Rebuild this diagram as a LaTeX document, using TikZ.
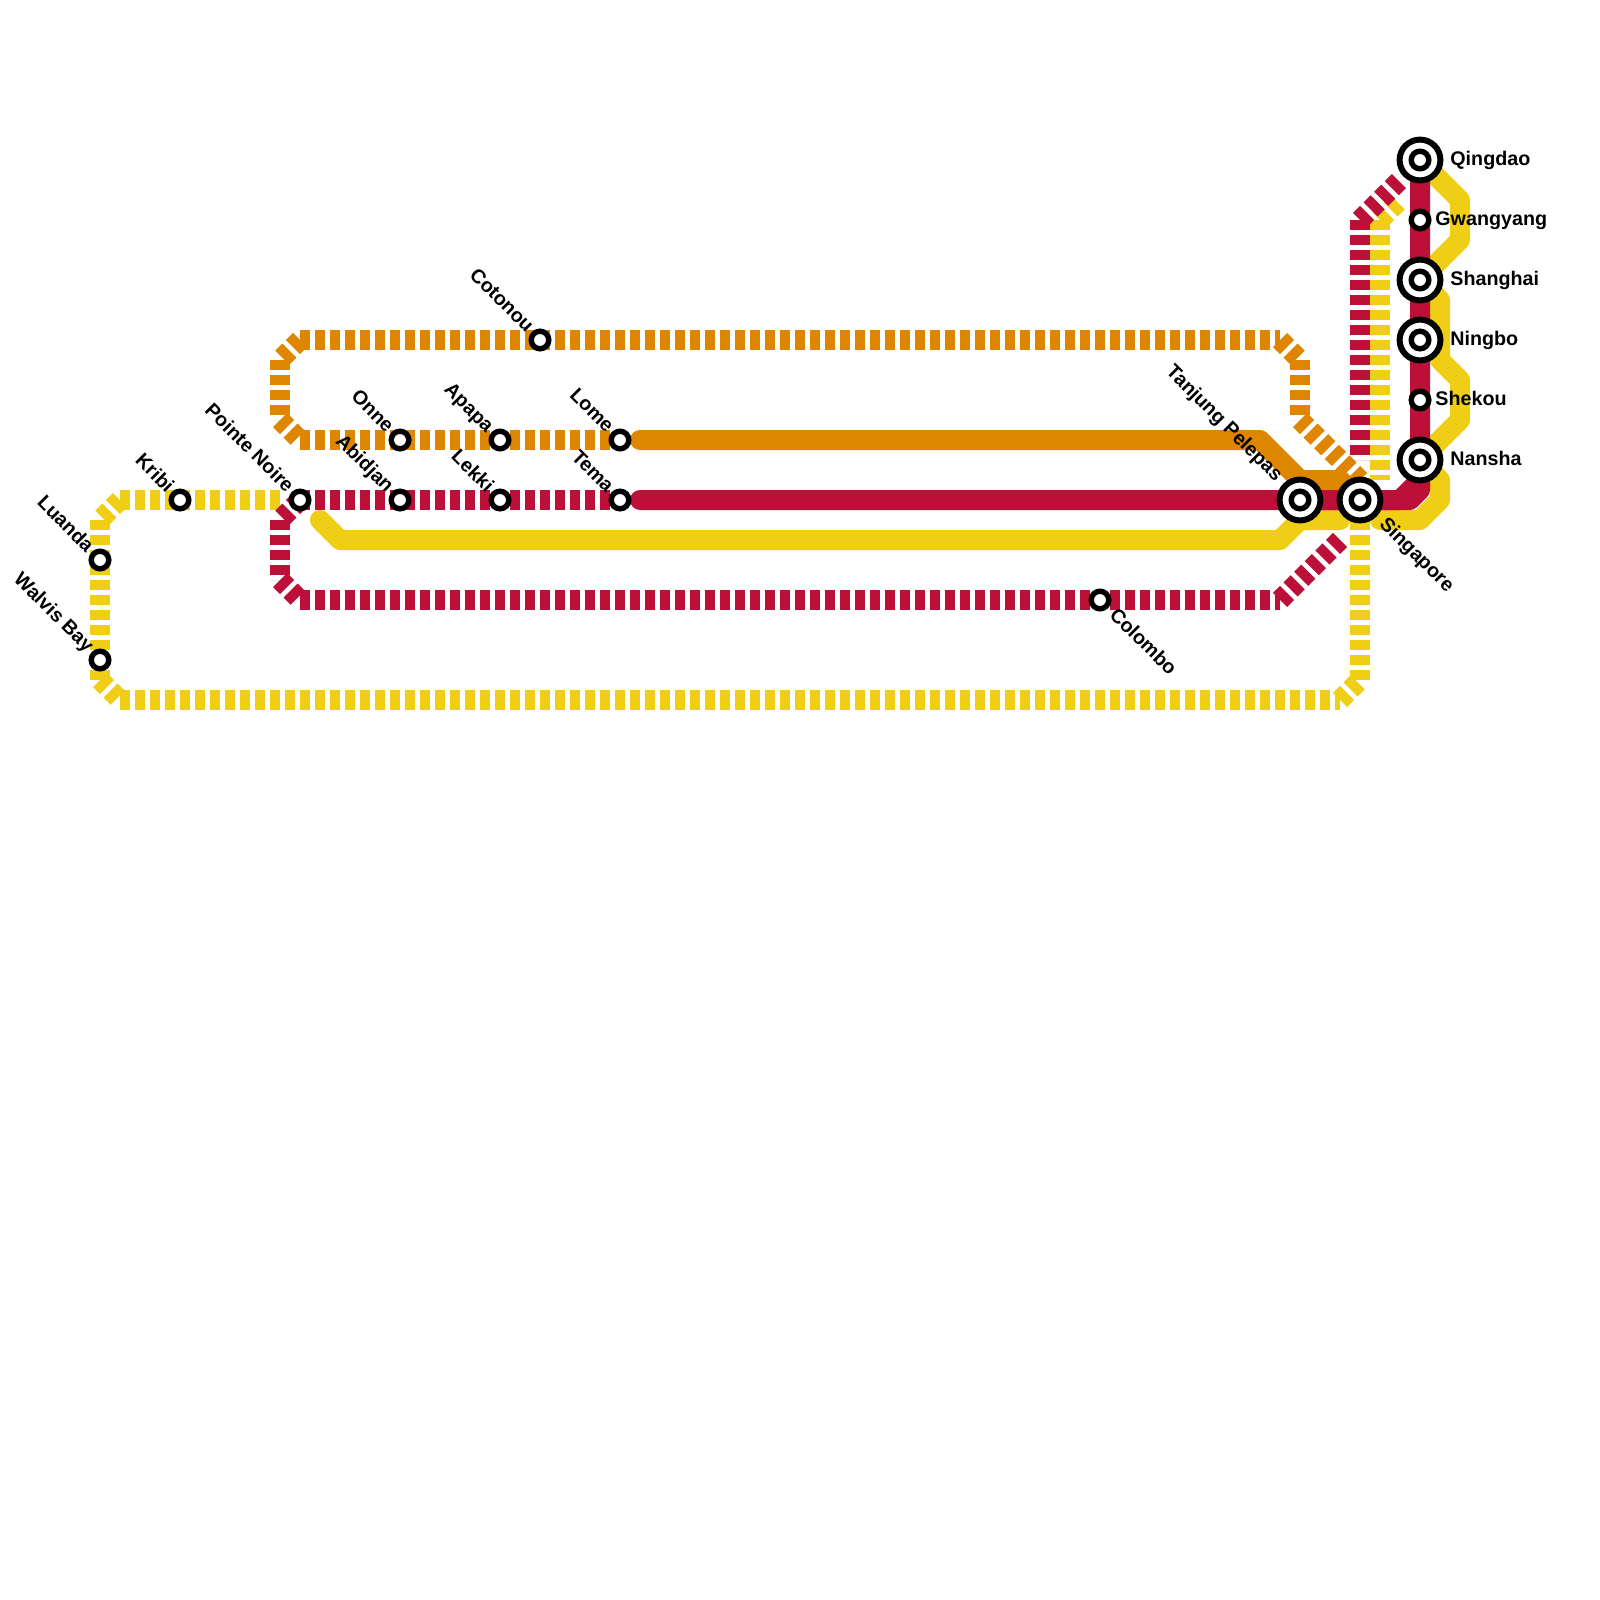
\documentclass[tikz,border=0pt]{standalone}
\usepackage{fontspec}
\setmainfont{Liberation Sans}
\definecolor{mred}{HTML}{BD1038}
\definecolor{myel}{HTML}{F0CE15}
\definecolor{mora}{HTML}{DF8600}
\pgfdeclarelayer{lines}
\pgfsetlayers{lines,main}
\tikzset{
  x=0.5pt,y=-0.5pt,
  route/.style={line width=10pt,line cap=butt,line join=round},
  dotted route/.style={route,dash pattern=on 5pt off 2.5pt},
  solid route/.style={route,line cap=round},
  stn/.style={circle,draw=black,fill=white,line width=2.7pt,minimum size=8.8pt,inner sep=0pt},
  hub/.style={circle,draw=black,fill=white,line width=3pt,minimum size=20.4pt,inner sep=0pt},
  lab/.style={font=\bfseries\fontsize{9.85pt}{11pt}\selectfont,text=black,inner sep=0pt},
  labL/.style={lab,rotate=-45,anchor=mid east},
  labR/.style={lab,rotate=-45,anchor=mid west},
  labE/.style={lab,anchor=mid west},
}
\begin{document}
\begin{tikzpicture}
\useasboundingbox (0,0) rectangle (1600,1600);
% bends
\foreach \n/\p in {
 a1/{120,500},a2/{100,520},a3/{100,680},a4/{120,700},a5/{1340,700},a6/{1360,680},a7/{1360,520},a8/{280,500},
 r1/{280,520},r2/{280,580},r3/{300,600},r4/{1280,600},r5/{1340,540},r6/{1360,220},r7/{1360,460},r8/{1400,180},
 o1/{300,340},o2/{280,360},o3/{280,420},o4/{300,440},o5/{1280,340},o6/{1300,360},o7/{1300,420},o8/{1360,480},
 y1/{1380,220},y2/{1400,200},y3/{1380,480},
 s1/{320,520},s2/{340,540},s3/{1280,540},s4/{1300,520},s5/{1340,520},s6/{1380,520},s7/{1420,520},s8/{1440,500},s9/{1440,480},
 s10/{1460,420},s11/{1460,380},s12/{1440,360},s13/{1440,300},s14/{1460,240},s15/{1460,200},
 p1/{640,440},p2/{1260,440},p3/{1300,480},p4/{1340,480},
 q1/{640,500},q2/{1400,500},q3/{1420,480},q4/{1410,500},q5/{1420,490}}
 {\coordinate (\n) at (\p);}
% stations
\node[stn] (kribi) at (180,500) {};
\node[stn] (luanda) at (100,560) {};
\node[stn] (walvis) at (100,660) {};
\node[stn] (pointe) at (300,500) {};
\node[stn] (abidjan) at (400,500) {};
\node[stn] (lekki) at (500,500) {};
\node[stn] (tema) at (620,500) {};
\node[stn] (onne) at (400,440) {};
\node[stn] (apapa) at (500,440) {};
\node[stn] (lome) at (620,440) {};
\node[stn] (cotonou) at (540,340) {};
\node[stn] (colombo) at (1100,600) {};
\node[stn] (gwangyang) at (1420,220) {};
\node[stn] (shekou) at (1420,400) {};
\foreach \n/\p in {tanjung/{1300,500},singapore/{1360,500},qingdao/{1420,160},shanghai/{1420,280},ningbo/{1420,340},nansha/{1420,460}}{
  \node[hub] (\n) at (\p) {};
  \node[stn] (\n in) at (\n.center) {};
}
% lines
\begin{pgfonlayer}{lines}
\fill[white] (0,0) rectangle (1600,1600);
% orange
\draw[solid route,mora] (p1)--(p2)--(p3)--(p4)--(singapore.center);
\foreach \a/\b in {o1/o2,o2/o3,o3/o4,o4/lome.center,o1/o5,o5/o6,o6/o7,o7/o8}
  \draw[dotted route,mora] (\a)--(\b);
% yellow
\draw[solid route,myel] (s1)--(s2)--(s3)--(s4)--(s5);
\draw[solid route,myel] (s6)--(s7)--(s8)--(s9)--(nansha.center)--(s10)--(s11)--(s12)--(s13)--(shanghai.center)--(s14)--(s15)--(qingdao.center);
\foreach \a/\b in {a1/a8,a1/a2,a2/a3,a3/a4,a4/a5,a5/a6,a7/a6,y1/y3,y1/y2}
  \draw[dotted route,myel] (\a)--(\b);
% red
\draw[solid route,mred] (q1)--(q2)--(q3)--(qingdao.center);
\draw[route,mred] (tanjung.center)--(q4)--(q5)--(nansha.center);
\foreach \a/\b in {pointe.center/tema.center,pointe.center/r1,r1/r2,r2/r3,r3/r4,r4/r5,r6/r8,r6/r7}
  \draw[dotted route,mred] (\a)--(\b);
\end{pgfonlayer}
% labels
\path (kribi)+(-10,-10) node[labL] (lkribi) {Kribi};
\path (luanda)+(-10,-10) node[labL] (lluanda) {Luanda};
\path (walvis)+(-10,-10) node[labL] (lwalvis) {Walvis Bay};
\path (pointe)+(-10,-10) node[labL] (lpointe) {Pointe Noire};
\path (abidjan)+(-10,-10) node[labL] (labidjan) {Abidjan};
\path (lekki)+(-10,-10) node[labL] (llekki) {Lekki};
\path (tema)+(-10,-10) node[labL] (ltema) {Tema};
\path (onne)+(-10,-10) node[labL] (lonne) {Onne};
\path (apapa)+(-10,-10) node[labL] (lapapa) {Apapa};
\path (lome)+(-10,-10) node[labL] (llome) {Lome};
\path (cotonou)+(-10,-10) node[labL] (lcotonou) {Cotonou};
\path (tanjung)+(-21,-21) node[labL] (ltanjung) {Tanjung Pelepas};
\path (colombo)+(12,12) node[labR] (lcolombo) {Colombo};
\path (singapore)+(22,21) node[labR] (lsingapore) {Singapore};
\path (qingdao)+(30,0) node[labE] (lqingdao) {Qingdao};
\path (gwangyang)+(15,0) node[labE] (lgwangyang) {Gwangyang};
\path (shanghai)+(30,0) node[labE] (lshanghai) {Shanghai};
\path (ningbo)+(30,0) node[labE] (lningbo) {Ningbo};
\path (shekou)+(15,0) node[labE] (lshekou) {Shekou};
\path (nansha)+(30,0) node[labE] (lnansha) {Nansha};
\end{tikzpicture}
\end{document}
